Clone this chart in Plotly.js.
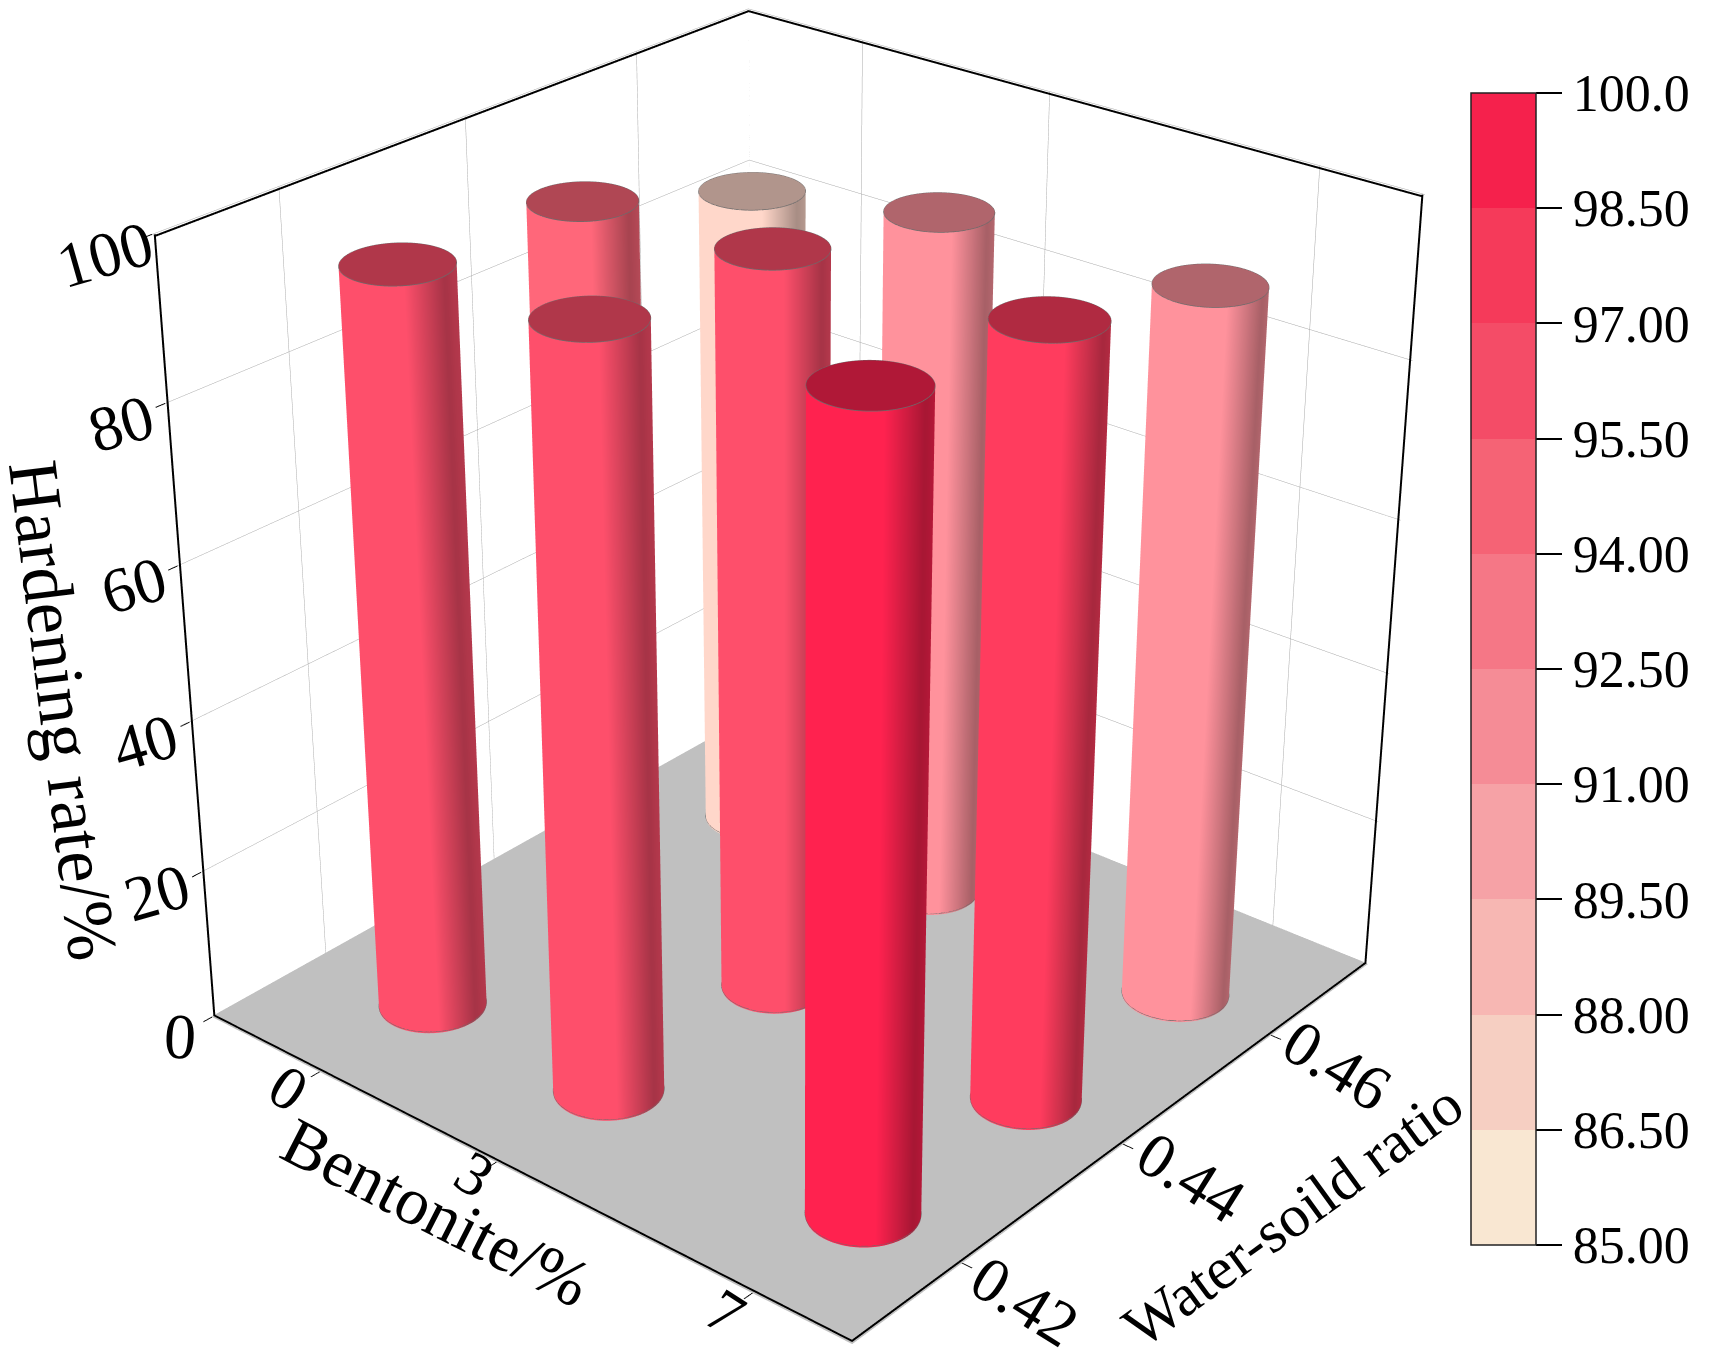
<!DOCTYPE html>
<html><head><meta charset="utf-8">
<script src="https://cdn.plot.ly/plotly-3.0.1.min.js"></script>
<style>html,body{margin:0;padding:0;width:1716px;height:1364px;overflow:hidden;background:#fff}
#wrap{position:absolute;left:0;top:0;width:1716px;height:1364px;overflow:hidden}
#chart{position:absolute}</style></head>
<body><div id="wrap"><div id="chart"></div></div>
<script>
const bentonite=[0,3,7];
const ratios=[0.42,0.44,0.46];
const ratioLabels=['0.42','0.44','0.46'];
// rows: ratios, columns: bentonite
const hardening042=[95.5,96.8,100];
const hardening044=[94,95.6,97.5];
const hardening046=[86.5,91,92];
const zTicks=[0,20,40,60,80,100];
const barTicks=[85,86.5,88,89.5,91,92.5,94,95.5,97,98.5,100];
const barTickText=['85.00','86.50','88.00','89.50','91.00','92.50','94.00','95.50','97.00','98.50','100.0'];
const bandColors=['#F9E7D2','#F6CFC2','#F7B7B3','#F6A2A6','#F58C96','#F57786','#F56375','#F44C67','#F53A5A','#F5214C'];

const H=3400, W=2000, PX=796, PY=621;
const off=H/2-PY, leftOff=W/2-PX;
const chart=document.getElementById('chart');
chart.style.top=(-off)+'px'; chart.style.left=(-leftOff)+'px'; chart.style.width=W+'px'; chart.style.height=H+'px';
const eye={x:2.74,y:-3.25,z:2.175};
const rb1=0.065, rb2=0.0633, xr=[-1.93,8.46], yr=[0.40734,0.474], zr=[0,100];
const xs=xr[1]-xr[0], ys=yr[1]-yr[0];
const serif='"Liberation Serif","Times New Roman",serif';

const hl=Math.hypot(eye.x,eye.y), right=[-eye.y/hl,eye.x/hl], fwd=[-eye.x/hl,-eye.y/hl];
function rgb(h){return [1,3,5].map(i=>parseInt(h.substr(i,2),16));}
function css(c,m){return 'rgb('+c.map(v=>Math.min(255,Math.round(v*m))).join(',')+')';}
function bandOf(v){let i=Math.floor((v-85)/1.5);return rgb(bandColors[Math.max(0,Math.min(9,i))]);}
function shade(p){
  if(p<0.6) return 1.04;
  if(p<0.92) return 1.04-(p-0.6)/0.32*0.36;
  return 0.68+(p-0.92)/0.08*0.06;
}
function ex(cx,t){return cx+xs*(rb1*Math.cos(t)*right[0]+rb2*Math.sin(t)*fwd[0]);}
function ey(cy,t){return cy+ys*(rb1*Math.cos(t)*right[1]+rb2*Math.sin(t)*fwd[1]);}
function cylinder(cx,cy,v){
  const n=96,c=bandOf(v),X=[],Y=[],Z=[],C=[],I=[],J=[],K=[];
  for(let a=0;a<n;a++){
    const t=a/n*2*Math.PI;
    const col=css(c,shade((Math.cos(t)+1)/2));
    X.push(ex(cx,t),ex(cx,t));Y.push(ey(cy,t),ey(cy,t));Z.push(0,v);C.push(col,col);
    const b=(a+1)%n;
    I.push(2*a,2*a+1);J.push(2*b,2*b);K.push(2*a+1,2*b+1);
  }
  const s=X.length;
  for(let a=0;a<n;a++){
    const t=a/n*2*Math.PI;
    X.push(ex(cx,t));Y.push(ey(cy,t));Z.push(v);C.push(css(c,0.72));
  }
  X.push(cx);Y.push(cy);Z.push(v);C.push(css(c,0.72));
  for(let a=0;a<n;a++){I.push(s+n);J.push(s+a);K.push(s+(a+1)%n);}
  return {type:'mesh3d',x:X,y:Y,z:Z,i:I,j:J,k:K,vertexcolor:C,flatshading:false,
    lighting:{ambient:1,diffuse:0,specular:0,roughness:1,fresnel:0},hoverinfo:'skip',showscale:false};
}
const rows=[hardening042,hardening044,hardening046];
const traces=[];
traces.push({type:'mesh3d',x:[xr[0],xr[1],xr[1],xr[0]],y:[yr[0],yr[0],yr[1],yr[1]],z:[0.12,0.12,0.12,0.12],
  i:[0,0],j:[1,2],k:[2,3],color:'#C0C0C0',lighting:{ambient:1,diffuse:0,specular:0},hoverinfo:'skip'});
const rx=[],ry=[],rz=[],bx=[],by=[],bv=[];
rows.forEach((r,yi)=>r.forEach((v,xi)=>{
  const cx=bentonite[xi],cy=ratios[yi];
  traces.push(cylinder(cx,cy,v));
  bx.push(cx);by.push(cy);bv.push(v);
  for(let a=0;a<=96;a++){const t=a/96*2*Math.PI;rx.push(ex(cx,t));ry.push(ey(cy,t));rz.push(v);}
  rx.push(null);ry.push(null);rz.push(null);
  for(let a=0;a<=96;a++){const t=a/96*2*Math.PI;rx.push(ex(cx,t));ry.push(ey(cy,t));rz.push(0.3);}
  rx.push(null);ry.push(null);rz.push(null);
}));
traces.push({type:'scatter3d',mode:'lines',x:rx,y:ry,z:rz,line:{color:'#6b6b6b',width:1.5},hoverinfo:'skip',showlegend:false});
const ex0=xr[0]+xs*0.002, ex1=xr[1]-xs*0.002, ey0=yr[0]+ys*0.002, ey1=yr[1]-ys*0.002, ez=0.2;
const fx=[ex0,ex0,null,ex1,ex1,null,ex0,ex0,ex1,null,ex0,ex1,ex1];
const fy=[ey0,ey0,null,ey1,ey1,null,ey0,ey1,ey1,null,ey0,ey0,ey1];
const fz=[zr[0],zr[1],null,zr[0],zr[1],null,zr[1]-ez,zr[1]-ez,zr[1]-ez,null,zr[0]+ez,zr[0]+ez,zr[0]+ez];
traces.push({type:'scatter3d',mode:'lines',x:fx,y:fy,z:fz,line:{color:'#000',width:4},hoverinfo:'skip',showlegend:false});
traces.push({type:'scatter3d',mode:'lines',x:[xr[0],xr[0],null,xr[0],xr[0]],y:[yr[1],yr[1],null,yr[0],yr[1]],z:[zr[0],zr[1],null,0.2,0.2],
  line:{color:'#9a9a9a',width:1.5},hoverinfo:'skip',showlegend:false});
const cs=[];bandColors.forEach((c,i)=>{cs.push([i/10,c],[(i+1)/10,c]);});
traces.push({type:'scatter3d',mode:'markers',x:bx,y:by,z:bv,hoverinfo:'skip',showlegend:false,
  marker:{size:1,opacity:0,color:bv,cmin:85,cmax:100,colorscale:cs,showscale:true,
   colorbar:{x:(1471+leftOff)/W,xanchor:'left',xpad:0,ypad:0,y:1-(669+off)/H,yanchor:'middle',lenmode:'pixels',len:1152,thicknessmode:'pixels',thickness:65,
    outlinewidth:1.5,outlinecolor:'#222',borderwidth:0,tickmode:'array',tickvals:barTicks,ticktext:barTickText,ticks:'outside',ticklen:26,tickwidth:1.5,tickcolor:'#000',
    tickfont:{family:serif,size:52,color:'#000'}}}});
const tf=s=>({family:serif,size:s,color:'#000'});
const ann=[];
function label(x,y,z,text,angle,dx,dy,size){ann.push({x,y,z,text,textangle:angle,showarrow:false,xshift:dx,yshift:-dy,font:tf(size),xanchor:'center',yanchor:'middle'});}
const xOff=[[-31,16],[-22,12],[-27,19]], yOff=[[63,38],[68,33],[66,30]];
bentonite.forEach((t,i)=>label(t,yr[0],0,String(t),33,xOff[i][0],xOff[i][1],62));
ratios.forEach((t,i)=>label(xr[1],t,0,ratioLabels[i],32,yOff[i][0],yOff[i][1],64));
zTicks.forEach(t=>label(xr[0],yr[0],t,String(t),t===0?3:-16,t===0?-32:(t===100?-47:-44),20,64));
label(xr[0],yr[0],50,'Hardening rate/%',83,-120,66,71);
label((xr[0]+xr[1])/2,yr[0],0,'Bentonite/%',27,-76,42,67);
label(xr[1],(yr[0]+yr[1])/2,0,'Water-soild ratio',-36,165,75,60);
const axis=(vals,txt,rng,bg,sb)=>({range:rng,tickmode:'array',tickvals:vals,ticktext:txt,showticklabels:false,title:{text:''},ticks:'outside',ticklen:10,tickcolor:'#000',tickwidth:2,
  showgrid:true,gridcolor:'#a8a8a8',gridwidth:1,zeroline:false,showline:false,showspikes:false,showbackground:sb,backgroundcolor:bg,autorange:false});
const layout={width:W,height:H,margin:{l:0,r:0,t:0,b:0},paper_bgcolor:'#fff',showlegend:false,
 scene:{domain:{x:[0,1],y:[0,1]},aspectmode:'manual',aspectratio:{x:1,y:1,z:1.012},
  camera:{eye:eye,center:{x:0,y:0,z:0},up:{x:0,y:0,z:1},projection:{type:'perspective'}},
  xaxis:axis(bentonite,bentonite.map(String),xr,'#fff',false),yaxis:axis(ratios,ratioLabels,yr,'#fff',false),zaxis:axis(zTicks,zTicks.map(String),zr,'#C0C0C0',true),
  annotations:ann}};
Plotly.newPlot(chart,traces,layout,{displayModeBar:false});
</script></body></html>
